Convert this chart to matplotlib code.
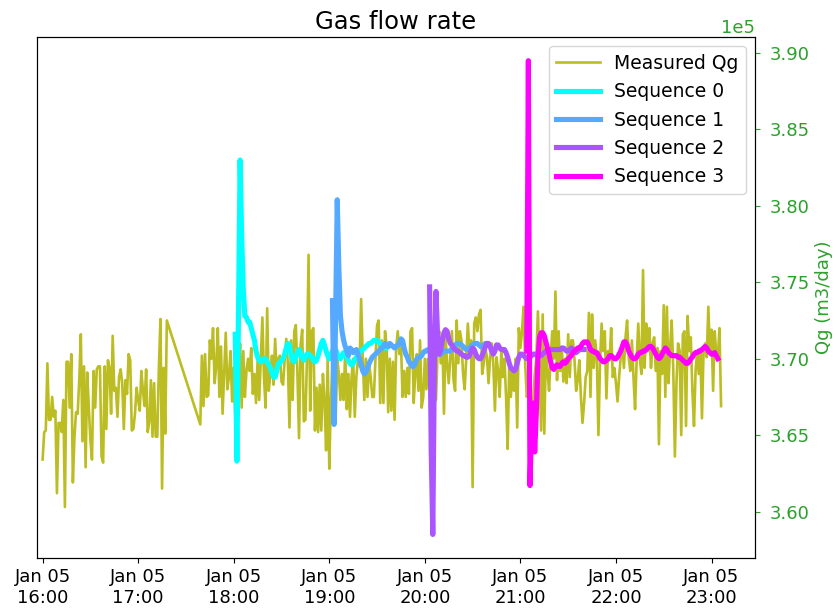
import numpy as np
import pandas as pd
import matplotlib
matplotlib.use("Agg")
import matplotlib.pyplot as plt
import matplotlib.dates as mdates

# measured gas rate, 1-minute samples (units of 1e5 m3/day)
meas_a_start = "2021-01-05 16:00"
qg_a = [3.634, 3.652, 3.653, 3.697, 3.660, 3.660, 3.675, 3.662, 3.666, 3.612,
        3.658, 3.658, 3.652, 3.673, 3.603, 3.698, 3.698, 3.668, 3.703, 3.619,
        3.649, 3.665, 3.664, 3.686, 3.716, 3.646, 3.695, 3.629, 3.691, 3.668,
        3.647, 3.634, 3.692, 3.668, 3.693, 3.695, 3.695, 3.636, 3.632, 3.695,
        3.654, 3.699, 3.694, 3.664, 3.715, 3.679, 3.681, 3.662, 3.688, 3.693,
        3.684, 3.654, 3.686, 3.677, 3.703, 3.699, 3.653, 3.654, 3.664, 3.681,
        3.673, 3.666, 3.692, 3.679, 3.669, 3.693, 3.652, 3.659, 3.686, 3.649,
        3.684, 3.649, 3.649, 3.694, 3.726, 3.615, 3.694, 3.651, 3.725]

meas_b_start = "2021-01-05 17:39"
qg_b = [3.657, 3.702, 3.669, 3.703, 3.675, 3.676, 3.712, 3.700, 3.720, 3.684,
        3.695, 3.720, 3.675, 3.708, 3.664, 3.690, 3.717, 3.680, 3.688, 3.705,
        3.672, 3.694, 3.660, 3.700, 3.686, 3.710, 3.668, 3.705, 3.675, 3.692,
        3.700, 3.692, 3.707, 3.677, 3.690, 3.671, 3.699, 3.673, 3.700, 3.727,
        3.688, 3.668, 3.733, 3.679, 3.690, 3.702, 3.683, 3.713,
        3.690, 3.700, 3.702, 3.685, 3.683, 3.700, 3.713, 3.697, 3.655, 3.712,
        3.673, 3.718, 3.722, 3.690, 3.648, 3.709, 3.719, 3.659, 3.660, 3.700,
        3.768, 3.666, 3.718, 3.720, 3.653, 3.681, 3.652, 3.683, 3.653, 3.690,
        3.673, 3.640, 3.701, 3.628, 3.673, 3.697, 3.685, 3.660, 3.700, 3.690,
        3.673, 3.690, 3.673, 3.705, 3.667, 3.690, 3.662, 3.688, 3.700, 3.662,
        3.688, 3.700, 3.695, 3.739, 3.701, 3.673, 3.700, 3.675, 3.697, 3.688,
        3.675, 3.675, 3.700, 3.722, 3.725, 3.671, 3.712, 3.671, 3.718, 3.709, 3.665, 3.700,
        3.666, 3.698, 3.660, 3.707, 3.718, 3.703, 3.712, 3.675, 3.692, 3.675,
        3.694, 3.677, 3.718, 3.720, 3.671, 3.690, 3.703, 3.679, 3.712, 3.668, 3.675,
        3.700, 3.680, 3.700, 3.690, 3.684, 3.718, 3.697, 3.673, 3.705, 3.718,
        3.697, 3.714, 3.664, 3.714, 3.697, 3.684, 3.701, 3.718, 3.686, 3.679,
        3.725, 3.697, 3.718, 3.712, 3.690, 3.680, 3.700, 3.723, 3.705, 3.712,
        3.616, 3.723, 3.727, 3.718, 3.729, 3.732, 3.690, 3.697, 3.707, 3.701,
        3.684, 3.701, 3.710, 3.697, 3.666, 3.701, 3.692, 3.675,
        3.705, 3.688, 3.700, 3.675, 3.641, 3.697, 3.675, 3.692, 3.679, 3.700,
        3.655, 3.720, 3.707, 3.718, 3.734, 3.697, 3.675, 3.679, 3.688, 3.662, 3.671,
        3.690, 3.700, 3.731, 3.692, 3.653, 3.729, 3.651, 3.707, 3.692, 3.679, 3.701, 3.718,
        3.700, 3.744, 3.686, 3.718, 3.692, 3.707, 3.685, 3.700,
        3.684, 3.716, 3.688, 3.712, 3.712, 3.699, 3.679, 3.686, 3.699, 3.675,
        3.658, 3.671, 3.688, 3.692, 3.730, 3.675, 3.729, 3.694, 3.712, 3.700,
        3.650, 3.697, 3.723, 3.705, 3.718, 3.674, 3.705, 3.699, 3.720, 3.688,
        3.694, 3.684, 3.672, 3.688, 3.701, 3.710, 3.694, 3.714, 3.725, 3.701,
        3.692, 3.712, 3.688, 3.667, 3.699, 3.723, 3.700, 3.690, 3.758, 3.694,
        3.723, 3.705, 3.720, 3.694, 3.710, 3.714, 3.692, 3.707, 3.644, 3.705,
        3.690, 3.735, 3.675, 3.734, 3.684, 3.707, 3.725, 3.692, 3.636, 3.684,
        3.710, 3.705, 3.650, 3.716, 3.718, 3.656, 3.728, 3.705, 3.714, 3.679,
        3.656, 3.692, 3.705, 3.690, 3.705, 3.661, 3.705, 3.710, 3.701, 3.734,
        3.705, 3.719, 3.679, 3.718, 3.703, 3.700, 3.720, 3.669]

# predicted sequences, 1-minute samples (units of 1e5 m3/day)
seq_starts = ["2021-01-05 18:01", "2021-01-05 19:02",
              "2021-01-05 20:03", "2021-01-05 21:04"]
seq0 = [3.716, 3.633, 3.730, 3.830, 3.780, 3.745, 3.728, 3.727, 3.724, 3.724,
        3.720, 3.716, 3.712, 3.705, 3.701, 3.699, 3.698, 3.699, 3.700, 3.700,
        3.698, 3.696, 3.694, 3.691, 3.688, 3.688, 3.692, 3.697, 3.697, 3.699,
        3.700, 3.703, 3.707, 3.710, 3.709, 3.703, 3.699, 3.698, 3.701, 3.704,
        3.706, 3.704, 3.701, 3.699, 3.701, 3.703, 3.703, 3.702, 3.701, 3.699,
        3.698, 3.699, 3.702, 3.706, 3.710, 3.712, 3.709, 3.705, 3.702, 3.700,
        3.702, 3.705, 3.707, 3.706, 3.703, 3.701, 3.700, 3.702, 3.704, 3.703,
        3.701, 3.699, 3.697, 3.696, 3.697, 3.699, 3.701, 3.703, 3.704, 3.705,
        3.706, 3.707, 3.708, 3.709, 3.710, 3.710, 3.711, 3.712, 3.712, 3.712,
        3.711, 3.710, 3.709, 3.708, 3.707, 3.707, 3.708, 3.709]
seq1 = [3.738, 3.657, 3.730, 3.804, 3.760, 3.728, 3.718, 3.712, 3.708, 3.705,
        3.702, 3.707, 3.706, 3.704, 3.705, 3.706, 3.703, 3.700, 3.696, 3.692,
        3.690, 3.691, 3.694, 3.697, 3.699, 3.701, 3.702, 3.703, 3.704, 3.705,
        3.706, 3.707, 3.708,
        3.710, 3.709, 3.708, 3.710, 3.709, 3.708, 3.707, 3.708, 3.709, 3.710,
        3.713, 3.712, 3.707, 3.703, 3.701, 3.698, 3.697, 3.695, 3.695, 3.697,
        3.700, 3.701, 3.701, 3.702, 3.704, 3.705, 3.705, 3.706, 3.706, 3.705,
        3.704, 3.703, 3.703, 3.703, 3.703, 3.703, 3.704, 3.705, 3.705, 3.705,
        3.705, 3.705, 3.706, 3.707, 3.708, 3.710, 3.710, 3.710, 3.709, 3.708,
        3.707, 3.706, 3.706, 3.707, 3.708, 3.709, 3.710, 3.710, 3.710, 3.709,
        3.708, 3.708, 3.709, 3.710, 3.710, 3.709]
seq2 = [3.747, 3.640, 3.585, 3.700, 3.744, 3.715, 3.703, 3.706, 3.712, 3.717,
        3.719, 3.718, 3.713, 3.710, 3.709, 3.707, 3.706, 3.705, 3.705, 3.704,
        3.703, 3.702, 3.702, 3.701, 3.701, 3.702, 3.705, 3.707, 3.706, 3.703,
        3.701, 3.700, 3.700, 3.702, 3.705, 3.708, 3.710, 3.710, 3.708, 3.705,
        3.703, 3.705, 3.709, 3.709, 3.707, 3.706, 3.706, 3.706, 3.704, 3.701,
        3.697, 3.694, 3.693, 3.692, 3.693, 3.697, 3.701, 3.703, 3.703, 3.702,
        3.701, 3.700, 3.700, 3.701, 3.702, 3.703, 3.703, 3.703, 3.702, 3.702,
        3.702, 3.703, 3.704, 3.705, 3.705, 3.705, 3.706, 3.706, 3.706, 3.706,
        3.706, 3.706, 3.706, 3.707, 3.707, 3.706, 3.705, 3.705, 3.706, 3.707,
        3.706, 3.705, 3.704, 3.705, 3.706, 3.706, 3.706, 3.706]
seq3 = [3.705, 3.895, 3.617, 3.655, 3.671, 3.639, 3.665, 3.700, 3.714, 3.717,
        3.717, 3.715, 3.711, 3.707, 3.703, 3.698, 3.694, 3.693, 3.695, 3.696,
        3.695, 3.695, 3.697, 3.698, 3.697, 3.698, 3.700, 3.701, 3.702, 3.704,
        3.705, 3.706, 3.707, 3.707, 3.708, 3.710, 3.711, 3.711, 3.711, 3.709,
        3.706, 3.705, 3.705, 3.704, 3.704, 3.702, 3.700, 3.699, 3.698, 3.698,
        3.699, 3.700, 3.702, 3.702, 3.701, 3.700, 3.700, 3.701, 3.703, 3.705,
        3.708, 3.711, 3.711, 3.709, 3.705, 3.703, 3.701, 3.700, 3.700, 3.701,
        3.703, 3.704, 3.704, 3.705, 3.705, 3.706, 3.707, 3.708, 3.708, 3.707,
        3.705, 3.703, 3.701, 3.700, 3.701, 3.703, 3.705, 3.707, 3.706, 3.704,
        3.703, 3.702, 3.702, 3.702, 3.702, 3.701, 3.701, 3.700, 3.699, 3.698,
        3.697, 3.697, 3.698, 3.700, 3.701, 3.703, 3.704, 3.704, 3.705, 3.705,
        3.706, 3.707, 3.708, 3.707, 3.705, 3.704, 3.703, 3.703, 3.704, 3.702,
        3.700]
sequences = [seq0, seq1, seq2, seq3]

scale = 1e5

t_a = pd.date_range(meas_a_start, periods=len(qg_a), freq="min")
t_b = pd.date_range(meas_b_start, periods=len(qg_b), freq="min")
t_meas = t_a.append(t_b)
qg = np.array(qg_a + qg_b) * scale

fig = plt.figure(figsize=(8.36, 6.12), dpi=100)
ax = fig.add_axes([0.0443, 0.088, 0.8587, 0.8515])
ax.set_yticks([])
ax2 = ax.twinx()

ax2.plot(t_meas, qg, color="tab:olive", lw=1.9, label="Measured Qg")
colors = plt.cm.cool(np.linspace(0, 1, len(sequences)))
for i, (start, seq) in enumerate(zip(seq_starts, sequences)):
    t = pd.date_range(start, periods=len(seq), freq="min")
    ax2.plot(t, np.array(seq) * scale, color=colors[i], lw=3.7,
             label=f"Sequence {i}")

ax.set_xlim(pd.Timestamp("2021-01-05 15:56:30"), pd.Timestamp("2021-01-05 23:27:15"))
ax.xaxis.set_major_locator(mdates.HourLocator())
ax.xaxis.set_major_formatter(mdates.DateFormatter("%b %d\n%H:%M"))
ax.tick_params(axis="x", labelsize=13)

ax2.ticklabel_format(axis="y", style="sci", scilimits=(0, 0))
ax2.tick_params(axis="y", colors="tab:green", labelsize=13, pad=7)
ax2.yaxis.get_offset_text().set_color("tab:green")
ax2.yaxis.get_offset_text().set_fontsize(13)
ax2.set_ylabel("Qg (m3/day)", color="tab:green", fontsize=13, labelpad=4)
ax.set_title("Gas flow rate", fontsize=17.5)
ax2.legend(loc="upper right", fontsize=13.5, handlelength=2.3,
           handletextpad=0.75)

fig.savefig("out.png", dpi=100)
